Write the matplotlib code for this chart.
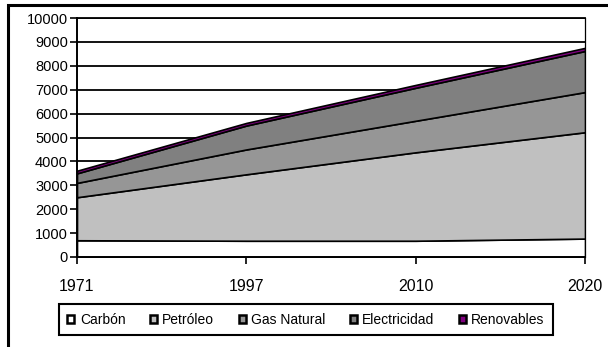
import matplotlib

matplotlib.use('Agg')
import matplotlib.pyplot as plt
from matplotlib.patches import Rectangle

plt.rcParams['font.family'] = ['Liberation Sans', 'DejaVu Sans']

# datos (valores por fuente, apilados)
years = ['1971', '1997', '2010', '2020']
series_names = ['Carbón', 'Petróleo', 'Gas Natural', 'Electricidad', 'Renovables']
carbon = [700, 680, 680, 770]
petroleo = [1800, 2780, 3700, 4450]
gas_natural = [600, 1040, 1320, 1680]
electricidad = [400, 1000, 1380, 1720]
renovables = [110, 110, 120, 130]
y_ticks = list(range(0, 10001, 1000))

colors = ['white', '#c0c0c0', '#969696', '#808080', '#800080']

fig = plt.figure(figsize=(6.08, 3.47), dpi=100)
ax = fig.add_axes([77 / 608, 90 / 347, 508 / 608, 239 / 347])

x = list(range(len(years)))
ax.stackplot(x, carbon, petroleo, gas_natural, electricidad, renovables,
             colors=colors, edgecolor='black', linewidth=1.2, zorder=3)

ax.set_xlim(0, len(years) - 1)
ax.set_ylim(0, 10000)
ax.set_yticks(y_ticks)
ax.set_yticklabels([str(v) for v in y_ticks], fontsize=10.5)
ax.set_xticks(x)
ax.set_xticklabels(years, fontsize=11.5)
ax.tick_params(axis='y', direction='out', length=5, width=1.2, pad=1.5)
ax.tick_params(axis='x', direction='out', length=5, width=1.2, pad=11)

ax.yaxis.grid(True, color='black', linewidth=1.3, zorder=1)
ax.set_axisbelow(True)
for side in ['left', 'bottom']:
    ax.spines[side].set_linewidth(1.4)
    ax.spines[side].set_zorder(4)
ax.spines['top'].set_linewidth(1.3)
ax.spines['right'].set_linewidth(0.9)

# marco exterior del grafico (recortado en la imagen original)
fig.add_artist(Rectangle((8 / 608, -0.2), 1.2, 342 / 347 + 0.2,
                         transform=fig.transFigure, fill=False,
                         edgecolor='black', linewidth=2.2))

handles = [Rectangle((0, 0), 1, 1, facecolor=c, edgecolor='black', linewidth=1.8)
           for c in colors]
leg = fig.legend(handles, series_names, ncol=5, mode='expand', loc='center',
                 bbox_to_anchor=(52 / 608, 10 / 347, 508 / 608, 35 / 347),
                 fontsize=10, handlelength=0.5, handleheight=0.5,
                 handletextpad=0.4, columnspacing=1.0, borderpad=0.6,
                 fancybox=False, framealpha=1)
leg.get_frame().set_edgecolor('black')
leg.get_frame().set_linewidth(1.5)

fig.savefig('out.png', dpi=100)
